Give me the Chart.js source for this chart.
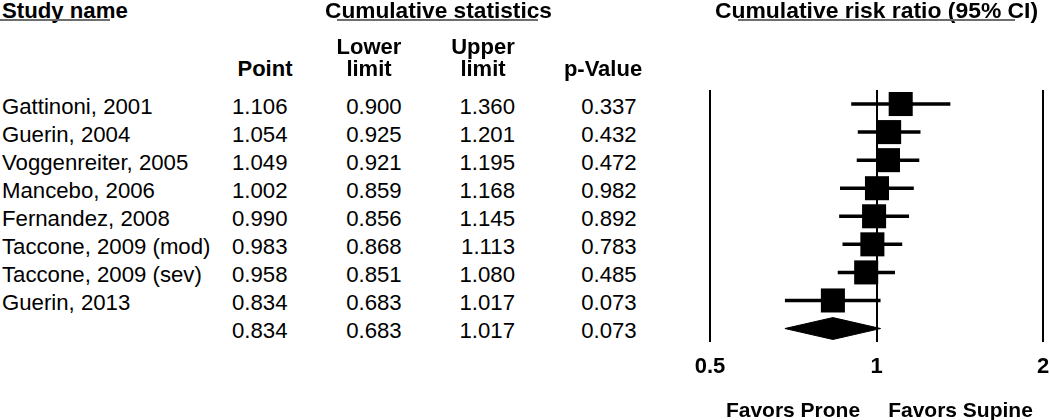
<!DOCTYPE html>
<html>
<head>
<meta charset="utf-8">
<script src="https://cdn.jsdelivr.net/npm/chart.js@4.4.1/dist/chart.umd.min.js"></script>
<style>
  html, body { margin: 0; padding: 0; background: #fff; }
  body { width: 1050px; height: 420px; position: relative; overflow: hidden;
         font-family: 'Liberation Sans', Arial, sans-serif; color: #000; }
  .t { position: absolute; white-space: nowrap; }
  .ul { position: absolute; height: 2px; background: #6e6e6e; }
  #plot { position: absolute; left: 690px; top: 0; width: 370px; height: 420px; }
</style>
</head>
<body>
<div id="plot"><canvas id="c"></canvas></div>
<script>
// ---------------- data ----------------
const studies = ["Gattinoni, 2001", "Guerin, 2004", "Voggenreiter, 2005", "Mancebo, 2006",
                 "Fernandez, 2008", "Taccone, 2009 (mod)", "Taccone, 2009 (sev)", "Guerin, 2013"];
const pointEst = [1.106, 1.054, 1.049, 1.002, 0.990, 0.983, 0.958, 0.834];
const lowerLim = [0.900, 0.925, 0.921, 0.859, 0.856, 0.868, 0.851, 0.683];
const upperLim = [1.360, 1.201, 1.195, 1.168, 1.145, 1.113, 1.080, 1.017];
const pValues  = [0.337, 0.432, 0.472, 0.982, 0.892, 0.783, 0.485, 0.073];
const summaryPoint = 0.834, summaryLower = 0.683, summaryUpper = 1.017, summaryP = 0.073;
const tickValues = [0.5, 1, 2];
const tickLabels = ["0.5", "1", "2"];
const headers = { study: "Study name", stats: "Cumulative statistics", plot: "Cumulative risk ratio (95% CI)" };
const colHeads = { point: ["Point"], lower: ["Lower", "limit"], upper: ["Upper", "limit"], p: ["p-Value"] };
const favorLabels = ["Favors Prone", "Favors Supine"];

// ---------------- layout helpers ----------------
const FONT = "'Liberation Sans', Arial, sans-serif";
function place(text, o) {
  const s = o.size || 22;
  const el = document.createElement('div');
  el.className = 't';
  el.textContent = text;
  el.style.fontSize = s + 'px';
  el.style.lineHeight = s + 'px';
  el.style.fontWeight = o.bold ? 'bold' : 'normal';
  el.style.top = (o.baseline - 0.8465 * s) + 'px';
  if (o.align === 'right') { el.style.right = (1050 - o.x) + 'px'; el.style.textAlign = 'right'; }
  else if (o.align === 'center') { el.style.left = (o.x - 150) + 'px'; el.style.width = '300px'; el.style.textAlign = 'center'; }
  else { el.style.left = o.x + 'px'; }
  document.body.appendChild(el);
}
function underline(x1, x2, top) {
  const d = document.createElement('div');
  d.className = 'ul';
  d.style.left = x1 + 'px'; d.style.width = (x2 - x1) + 'px'; d.style.top = top + 'px';
  document.body.appendChild(d);
}

// headers
place(headers.study, { x: 2, baseline: 18.5, bold: true, size: 22.2 });
place(headers.stats, { x: 325, baseline: 18.5, bold: true, size: 22.7 });
place(headers.plot, { x: 715, baseline: 18.5, bold: true, size: 22.9 });
underline(0, 110, 19);
underline(337, 538, 19);
underline(738, 1015, 19);

const colX = { point: 287.5, lower: 401.7, upper: 515, p: 636.7 };
const headCenter = { point: 265, lower: 369, upper: 483, p: 603 };
for (const k of Object.keys(colHeads)) {
  const lines = colHeads[k];
  lines.forEach((ln, i) => {
    const base = 77 - (lines.length - 1 - i) * 22;
    place(ln, { x: headCenter[k], baseline: base, bold: true, align: 'center' });
  });
}

// rows
const rowTop = 104.5, rowStep = 28.06;
const rows = studies.map((s, i) => [s, pointEst[i], lowerLim[i], upperLim[i], pValues[i]]);
rows.push(["", summaryPoint, summaryLower, summaryUpper, summaryP]);
rows.forEach((r, i) => {
  const b = rowTop + rowStep * i + 10;
  if (r[0]) place(r[0], { x: 2, baseline: b, size: 22.2 });
  place(r[1].toFixed(3), { x: colX.point, baseline: b, align: 'right', size: 22.2 });
  place(r[2].toFixed(3), { x: colX.lower, baseline: b, align: 'right', size: 22.2 });
  place(r[3].toFixed(3), { x: colX.upper, baseline: b, align: 'right', size: 22.2 });
  place(r[4].toFixed(3), { x: colX.p, baseline: b, align: 'right', size: 22.2 });
});

place(favorLabels[0], { x: 793, baseline: 416.5, bold: true, align: 'center', size: 21 });
place(favorLabels[1], { x: 960.5, baseline: 416.5, bold: true, align: 'center', size: 21 });

// ---------------- chart ----------------
const nRows = studies.length;        // summary row index = nRows
const diamondHalf = 0.39;            // half height of diamond in row units

const datasets = [];
// squares
datasets.push({
  type: 'line', showLine: false, order: 0,
  data: pointEst.map((v, i) => ({ x: v, y: i })),
  pointStyle: 'rect', pointRadius: 17, pointHoverRadius: 17,
  pointBackgroundColor: '#000', pointBorderWidth: 0, borderColor: '#000'
});
// CI whiskers
studies.forEach((s, i) => {
  datasets.push({
    type: 'line', order: 1,
    data: [{ x: lowerLim[i], y: i }, { x: upperLim[i], y: i }],
    borderColor: '#000', borderWidth: 3.5, pointRadius: 0, fill: false, tension: 0
  });
});
// summary diamond (upper and lower halves, filled between)
datasets.push({
  type: 'line', order: 2,
  data: [{ x: summaryLower, y: nRows }, { x: summaryPoint, y: nRows - diamondHalf }, { x: summaryUpper, y: nRows }],
  borderColor: '#000', borderWidth: 1, pointRadius: 0, fill: false, tension: 0
});
datasets.push({
  type: 'line', order: 2,
  data: [{ x: summaryLower, y: nRows }, { x: summaryPoint, y: nRows + diamondHalf }, { x: summaryUpper, y: nRows }],
  borderColor: '#000', borderWidth: 1, pointRadius: 0, backgroundColor: '#000', fill: '-1', tension: 0
});

new Chart(document.getElementById('c'), {
  type: 'line',
  data: { datasets },
  options: {
    responsive: true, maintainAspectRatio: false, animation: false,
    layout: { padding: { left: 20, right: 6, top: 90, bottom: 0 } },
    plugins: { legend: { display: false }, tooltip: { enabled: false } },
    events: [],
    scales: {
      x: {
        type: 'logarithmic', min: tickValues[0], max: tickValues[tickValues.length - 1],
        afterBuildTicks: (axis) => { axis.ticks = tickValues.map(v => ({ value: v })); },
        afterFit: (scale) => { scale.paddingLeft = 0; scale.paddingRight = 0; scale.height = 78; },
        ticks: {
          autoSkip: false, maxRotation: 0, padding: 12, color: '#000',
          font: { family: FONT, size: 22, weight: 'bold' },
          callback: (v) => { const k = tickValues.indexOf(v); return k >= 0 ? tickLabels[k] : ''; }
        },
        grid: { color: '#000', lineWidth: 2, drawTicks: false },
        border: { display: false }
      },
      y: {
        type: 'linear', min: -0.5, max: nRows + 0.48, reverse: true, display: false
      }
    }
  }
});
</script>
</body>
</html>
